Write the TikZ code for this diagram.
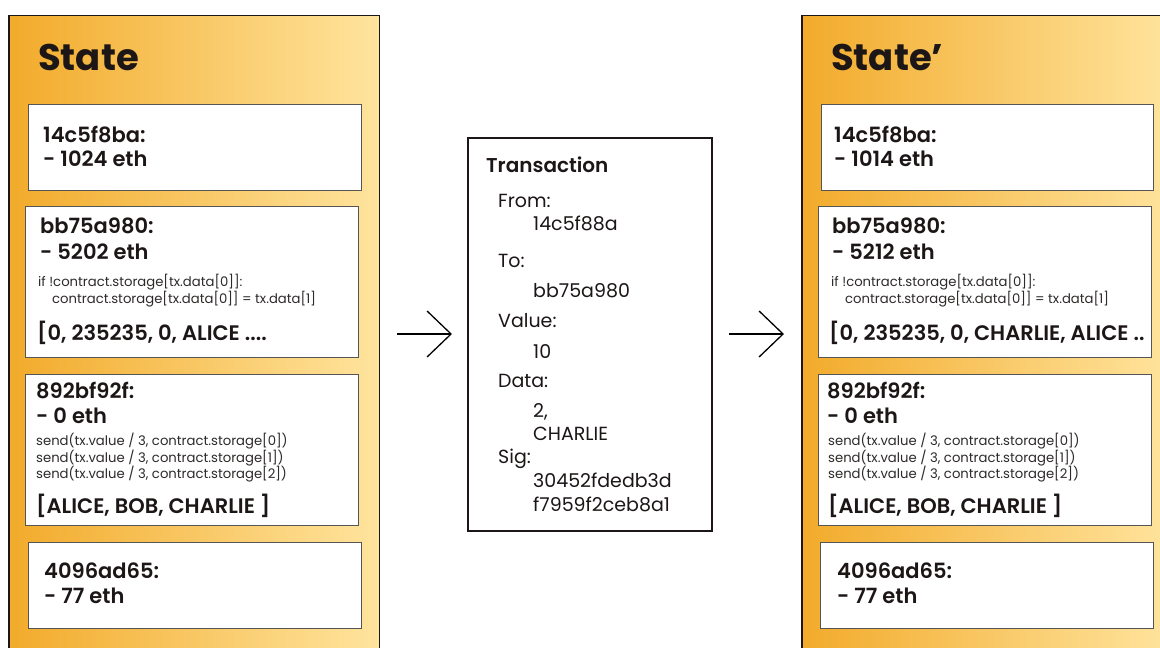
\documentclass[tikz,border=0pt]{standalone}
\usepackage{fontspec}
\setmainfont{Poppins}[BoldFont={Poppins SemiBold}]
\newfontfamily\heavyfont{Poppins Bold}
\usetikzlibrary{arrows.meta}
\definecolor{orangeL}{HTML}{F2AB2B}
\definecolor{yellowR}{HTML}{FFE49E}
\definecolor{ink}{HTML}{1C1616}
\definecolor{codegray}{HTML}{2E2A2A}
\definecolor{boxline}{HTML}{555555}
\begin{document}
\begin{tikzpicture}[x=1pt,y=-1pt,
  panel/.style={left color=orangeL, right color=yellowR, draw=ink, line width=1.4pt},
  acct/.style={fill=white, draw=boxline, line width=1pt},
  txbox/.style={fill=white, draw=ink, line width=1.2pt},
  lbl/.style={anchor=base west, inner sep=0pt, text=ink},
  title/.style={lbl, font=\fontsize{37}{40}\heavyfont},
  big/.style={lbl, font=\fontsize{21}{24}\selectfont\bfseries},
  code/.style={lbl, text=codegray, font=\fontsize{13.2}{16}\selectfont},
  tx/.style={lbl, font=\fontsize{19}{21}\selectfont},
  txtitle/.style={lbl, font=\fontsize{20}{22}\selectfont\bfseries},
  flow/.style={line width=1.3pt, -{Straight Barb[length=24pt,width=46pt,line width=1.3pt]}}
]
\useasboundingbox (0,0) rectangle (1160,648);
\clip (0,0) rectangle (1160,648);
\fill[white] (0,0) rectangle (1160,648);

% ---------- left panel ----------
\shadedraw[panel] (9,15.5) rectangle (379.5,670);
\node[title] (st) at (38,70) {State};
\draw[acct] (28,104) rectangle (361,190);
\node[big] (a1) at (43,142) {14c5f8ba:};
\node[big] (a1b) at (43,166) {- 1024 eth};
\draw[acct] (25.5,206) rectangle (358,357);
\node[big] (a2) at (40,233) {bb75a980:};
\node[big] (a2b) at (40,259) {- 5202 eth};
\node[code] (a2c) at (38,286) {if !contract.storage[tx.data[0]]:};
\node[code] (a2d) at (52,303) {contract.storage[tx.data[0]] = tx.data[1]};
\node[big] (a2e) at (37,340) {[0, 235235, 0, ALICE ....};
\draw[acct] (25.5,374) rectangle (358,525);
\node[big] (a3) at (36,398) {892bf92f:};
\node[big] (a3b) at (36,423) {- 0 eth};
\node[code] (a3c) at (36,445) {send(tx.value / 3, contract.storage[0])};
\node[code] (a3d) at (36,462) {send(tx.value / 3, contract.storage[1])};
\node[code] (a3e) at (36,478) {send(tx.value / 3, contract.storage[2])};
\node[big] (a3f) at (36,513) {[ALICE, BOB, CHARLIE ]};
\draw[acct] (28,542) rectangle (361,628);
\node[big] (a4) at (44,578) {4096ad65:};
\node[big] (a4b) at (44,603) {- 77 eth};

% ---------- transaction ----------
\draw[txbox] (468,138) rectangle (712,531);
\node[txtitle] (tt) at (486,172) {Transaction};
\node[tx] (t1) at (498,207) {From:};
\node[tx] (t2) at (533,230) {14c5f88a};
\node[tx] (t3) at (498,267) {To:};
\node[tx] (t4) at (533,297) {bb75a980};
\node[tx] (t5) at (498,327) {Value:};
\node[tx] (t6) at (533,358) {10};
\node[tx] (t7) at (498,387) {Data:};
\node[tx] (t8) at (533,417) {2,};
\node[tx] (t9) at (533,440) {CHARLIE};
\node[tx] (t10) at (498,463) {Sig:};
\node[tx] (t11) at (533,487) {30452fdedb3d};
\node[tx] (t12) at (533,511) {f7959f2ceb8a1};

% ---------- arrows ----------
\coordinate (l1) at (397,334);
\coordinate (l2) at (452,334);
\coordinate (r1) at (729,334);
\coordinate (r2) at (784,334);
\draw[flow] (l1) -- (l2);
\draw[flow] (r1) -- (r2);

% ---------- right panel ----------
\shadedraw[panel] (802,15.5) rectangle (1172,670);
\node[title] (st2) at (831,70) {State’};
\draw[acct] (821,104) rectangle (1153,190);
\node[big] (b1) at (834,142) {14c5f8ba:};
\node[big] (b1b) at (834,166) {- 1014 eth};
\draw[acct] (818,206) rectangle (1151,357);
\node[big] (b2) at (832,233) {bb75a980:};
\node[big] (b2b) at (832,259) {- 5212 eth};
\node[code] (b2c) at (831,286) {if !contract.storage[tx.data[0]]:};
\node[code] (b2d) at (845,303) {contract.storage[tx.data[0]] = tx.data[1]};
\node[big] (b2e) at (829,340) {[0, 235235, 0, CHARLIE, ALICE ..};
\draw[acct] (818,374) rectangle (1151,525);
\node[big] (b3) at (827,398) {892bf92f:};
\node[big] (b3b) at (827,423) {- 0 eth};
\node[code] (b3c) at (828,445) {send(tx.value / 3, contract.storage[0])};
\node[code] (b3d) at (828,462) {send(tx.value / 3, contract.storage[1])};
\node[code] (b3e) at (828,478) {send(tx.value / 3, contract.storage[2])};
\node[big] (b3f) at (828,513) {[ALICE, BOB, CHARLIE ]};
\draw[acct] (820,542) rectangle (1153,628);
\node[big] (b4) at (837,578) {4096ad65:};
\node[big] (b4b) at (837,603) {- 77 eth};
\end{tikzpicture}
\end{document}
